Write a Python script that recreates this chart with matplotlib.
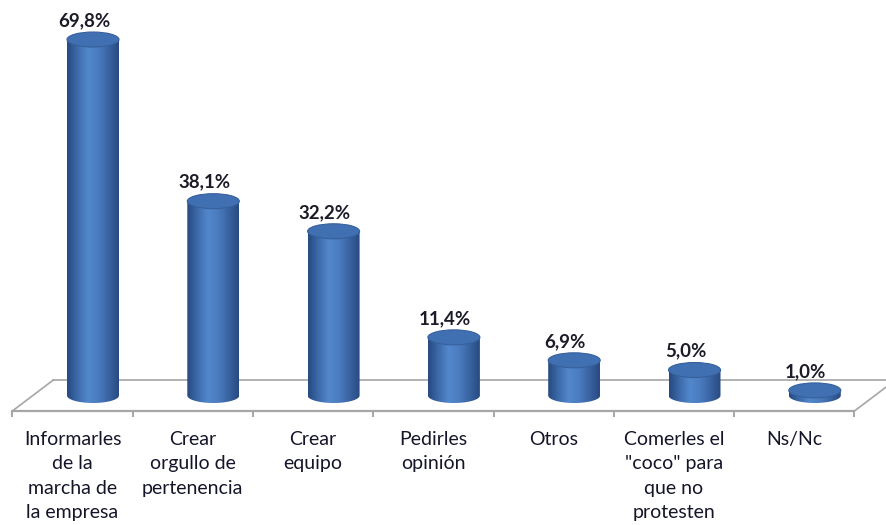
import numpy as np
import matplotlib
matplotlib.use("Agg")
import matplotlib.pyplot as plt
from matplotlib.patches import Ellipse, PathPatch
from matplotlib.path import Path
from matplotlib.colors import LinearSegmentedColormap

# answers and their share of responses (%)
categories = [
    "Informarles\nde la\nmarcha de\nla empresa",
    "Crear\norgullo de\npertenencia",
    "Crear\nequipo",
    "Pedirles\nopinión",
    "Otros",
    "Comerles el\n\"coco\" para\nque no\nprotesten",
    "Ns/Nc",
]
values = [69.8, 38.1, 32.2, 11.4, 6.9, 5.0, 1.0]
value_labels = ["69,8%", "38,1%", "32,2%", "11,4%", "6,9%", "5,0%", "1,0%"]

plt.rcParams['font.family'] = ['Lato', 'DejaVu Sans']

fig = plt.figure(figsize=(8.86, 5.25), dpi=100)
ax = fig.add_axes([0, 0, 1, 1])
ax.set_axis_off()

# pixel scale helpers: one category = 120.3 px, one percent = 5.1 px
px_x = 1 / 120.3
px_y = 1 / 5.1

bar_w = 52 * px_x
ell_h = 15 * px_y
depth_x = 20.5 * px_x
depth_y = 15.5 * px_y

body_cmap = LinearSegmentedColormap.from_list(
    "cyl", ["#274a80", "#3d6bab", "#5287cc", "#4a7cbf", "#3a64a2", "#284b82"])
grad = np.linspace(0, 1, 64).reshape(1, -1)

n = len(values)
lo, hi = -0.5, n - 0.5

# floor outline
floor_col = "#a6a6a6"
ax.plot([lo - depth_x, hi - depth_x], [-depth_y, -depth_y], color=floor_col, lw=1.6, zorder=1)
ax.plot([lo + depth_x, hi + depth_x + 0.05], [depth_y, depth_y], color=floor_col, lw=1.2, zorder=1)
ax.plot([lo - depth_x, lo + depth_x], [-depth_y, depth_y], color=floor_col, lw=1.2, zorder=1)
ax.plot([hi - depth_x, hi + depth_x], [-depth_y, depth_y], color=floor_col, lw=1.2, zorder=1)
for k in range(n + 1):
    xk = lo - depth_x + k
    ax.plot([xk, xk], [-depth_y, -depth_y - 5 * px_y], color=floor_col, lw=1.4, zorder=1)

for i, v in enumerate(values):
    x0, x1 = i - bar_w / 2, i + bar_w / 2
    # body: side walls plus the front half of the bottom ellipse
    t = np.linspace(np.pi, 2 * np.pi, 40)
    arc = np.column_stack([i + bar_w / 2 * np.cos(t), ell_h / 2 * np.sin(t)])
    verts = np.vstack([[x0, v], arc, [x1, v], [x0, v]])
    clip = PathPatch(Path(verts), facecolor="none", edgecolor="none")
    ax.add_patch(clip)
    im = ax.imshow(grad, cmap=body_cmap, aspect="auto", extent=[x0, x1, -ell_h / 2, v],
                   interpolation="bilinear", zorder=2)
    im.set_clip_path(clip)
    ax.add_patch(Ellipse((i, v), bar_w, ell_h, facecolor="#4170b2",
                         edgecolor="#36609c", lw=0.8, zorder=3))
    ax.text(i - 9 * px_x, v + 19 * px_y, value_labels[i], ha="center", va="center",
            fontsize=13.5, fontweight="bold", color="#1c1c28", zorder=4)

for i, lab in enumerate(categories):
    ax.text(i - depth_x, -depth_y - 20 * px_y, lab, ha="center", va="top",
            fontsize=14, color="#15152a", linespacing=1.52)

ax.set_xlim(-93 * px_x, (886 - 93) * px_x)
ax.set_ylim(-(525 - 395.5) * px_y, 395.5 * px_y)

fig.savefig("out.png", dpi=100)
